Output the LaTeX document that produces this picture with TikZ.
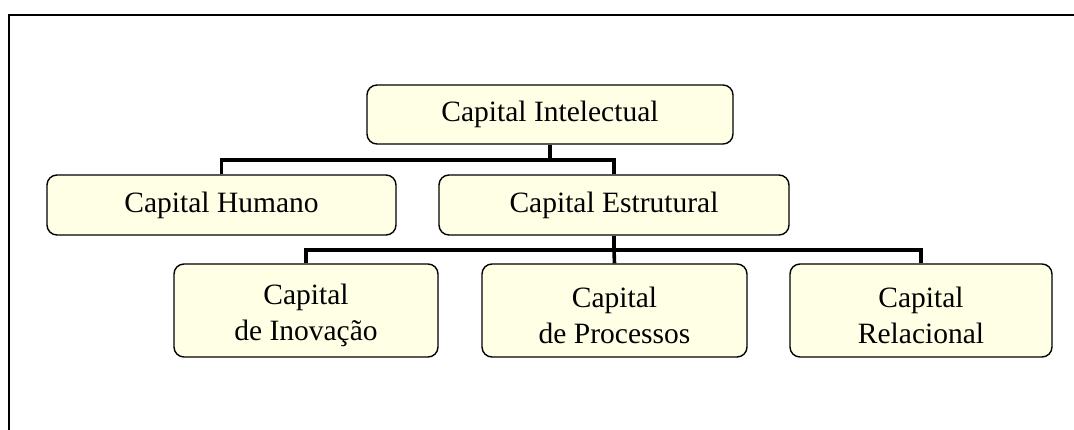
\documentclass[tikz,border=0pt]{standalone}
\usepackage{fontspec}
\setmainfont{Liberation Serif}
\definecolor{boxfill}{RGB}{255,255,230}
\newcommand{\lowstrut}{\rule{0pt}{30pt}}
\begin{document}
\begin{tikzpicture}[x=1pt,y=-1pt,
  cbox/.style={draw=black,line width=1.4pt,fill=boxfill,rounded corners=10pt,
    align=center,inner sep=0pt,font=\fontsize{29.5}{36}\selectfont},
  link/.style={line width=3.6pt}]
\useasboundingbox (0,0) rectangle (1074,430);
% open frame: top and left edges only
\draw[line width=2.4pt] (9,430) -- (9,15) -- (1074,15);

\node[cbox,minimum width=366pt,minimum height=59pt] (ci) at (550,114.5) {Capital Intelectual};
\node[cbox,minimum width=349pt,minimum height=60pt] (ch) at (221.5,205) {Capital Humano};
\node[cbox,minimum width=350pt,minimum height=60pt] (ce) at (614,205) {Capital Estrutural};
\node[cbox,minimum width=264pt,minimum height=93pt] (cin) at (306,310.5) {\lowstrut Capital\\de Inovação};
\node[cbox,minimum width=265pt,minimum height=93pt] (cp) at (614.5,310.5) {\lowstrut Capital\\de Processos};
\node[cbox,minimum width=262pt,minimum height=93pt] (cr) at (921,310.5) {\lowstrut Capital\\Relacional};

\coordinate (j1) at (550,160);
\coordinate (j2) at (614,250);
\draw[link] (ci.south) -- (j1);
\draw[link] (ch.north) |- (j1) -| (ce.north);
\draw[link] (ce.south) -- (j2);
\draw[link] (cin.north) |- (j2) -| (cr.north);
\draw[link] (j2) -- (cp.north);
\end{tikzpicture}
\end{document}
